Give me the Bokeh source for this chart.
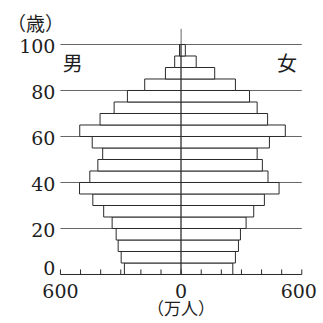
from bokeh.plotting import figure
from bokeh.models import Range1d, ColumnDataSource
from bokeh.core.properties import value
from bokeh.embed import file_html
from bokeh.resources import INLINE

# 5-year age groups (lower bound, years)
age_start = [0, 5, 10, 15, 20, 25, 30, 35, 40, 45, 50, 55, 60, 65, 70, 75, 80, 85, 90, 95]
# population, 10,000 persons (万人)
male = [282, 298, 313, 323, 343, 385, 439, 505, 454, 414, 390, 442, 504, 403, 333, 267, 181, 78, 32, 8]
female = [257, 270, 285, 295, 323, 361, 414, 487, 432, 404, 378, 439, 518, 430, 378, 340, 270, 167, 75, 21]

x_tick_values = [-600, 0, 600]
x_tick_labels = ["600", "0", "600"]
x_minor_ticks = [-500, -400, -300, -200, -100, 100, 200, 300, 400, 500]
y_tick_values = [0, 20, 40, 60, 80, 100]
y_tick_labels = ["0", "20", "40", "60", "80", "100"]
grid_ages = [20, 40, 60, 80, 100]

GRAY = "#666666"
DARK = "#2a2a2a"
TXT = "#1e1e1e"
SERIF = value("DejaVu Serif")
CJK = value("Noto Sans CJK JP")

W = H = 320
# frame covers the whole canvas; scales: 600 (万人) ~ 120.7 px, 100 years ~ 230 px
p = figure(width=W, height=H, output_backend="svg", toolbar_location=None,
           x_axis_location=None, y_axis_location=None,
           x_range=Range1d(-898, 693), y_range=Range1d(-20, 119.13),
           min_border=0)
p.min_border_left = p.min_border_right = p.min_border_top = p.min_border_bottom = 0
p.outline_line_color = None
p.xgrid.visible = False
p.ygrid.visible = False
p.background_fill_color = "white"
p.border_fill_color = "white"

lo, hi = x_tick_values[0], x_tick_values[-1]

# grid lines (behind the bars)
p.segment(x0=[lo] * len(grid_ages), x1=[hi] * len(grid_ages), y0=grid_ages, y1=grid_ages,
          line_color=GRAY, line_width=1)
p.segment(x0=[0], x1=[0], y0=[0], y1=[106.8], line_color=GRAY, line_width=1)

# bars
mid = [a + 2.5 for a in age_start]
src = ColumnDataSource(dict(y=mid, m=[-v for v in male], f=female))
p.hbar(y="y", left="m", right=0, height=5, source=src,
       fill_color="white", line_color=DARK, line_width=1)
p.hbar(y="y", left=0, right="f", height=5, source=src,
       fill_color="white", line_color=DARK, line_width=1)

# bottom axis: line and inward ticks
p.segment(x0=[lo], x1=[hi], y0=[0], y1=[0], line_color=DARK, line_width=1)
all_ticks = sorted(x_tick_values + x_minor_ticks)
p.segment(x0=all_ticks, x1=all_ticks, y0=[0] * len(all_ticks), y1=[2.2] * len(all_ticks),
          line_color=DARK, line_width=1)

# x tick labels
p.text(x=x_tick_values, y=[0] * len(x_tick_values), text=x_tick_labels,
       x_offset=[0, 0, -3], y_offset=17, text_align="center", text_baseline="alphabetic",
       text_font=SERIF, text_font_size="19px", text_color=TXT)

# y tick labels
p.text(x=[lo] * len(y_tick_values), y=y_tick_values, text=y_tick_labels,
       x_offset=-5, y_offset=[-6 if v == 0 else 2 for v in y_tick_values],
       text_align="right", text_baseline="alphabetic",
       text_font=SERIF, text_font_size="19px", text_color=TXT)

# unit / sex labels
p.text(x=[lo], y=[100], text=["（歳）"], x_offset=-25, y_offset=-22,
       text_align="center", text_baseline="middle",
       text_font=CJK, text_font_size="19px", text_color=TXT)
p.text(x=[0], y=[0], text=["（万人）"], y_offset=33,
       text_align="center", text_baseline="middle",
       text_font=CJK, text_font_size="17px", text_color=TXT)
p.text(x=[-539], y=[92], text=["男"], text_align="center", text_baseline="middle",
       text_font=CJK, text_font_size="20px", text_color=TXT)
p.text(x=[527], y=[92], text=["女"], text_align="center", text_baseline="middle",
       text_font=CJK, text_font_size="20px", text_color=TXT)

open("out.html", "w").write(file_html(p, INLINE))
